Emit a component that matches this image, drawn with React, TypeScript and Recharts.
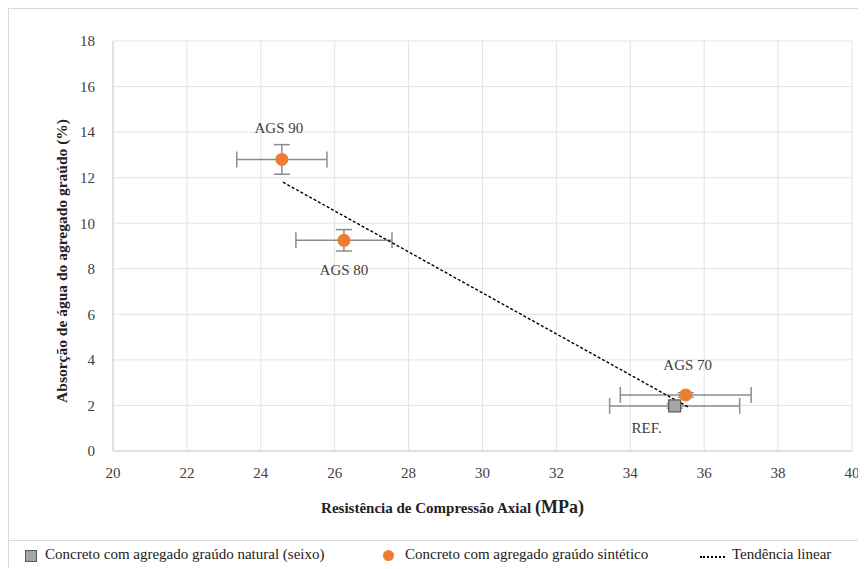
import { CartesianGrid, ErrorBar, Label, Scatter, ScatterChart, XAxis, YAxis } from 'recharts';

// values
const refX = [35.2];
const refY = [1.98];
const refErrX = [1.76];
const refErrY = [0.1];
const refNames = ['REF.'];

const agsNames = ['AGS 90', 'AGS 80', 'AGS 70'];
const agsX = [24.57, 26.25, 35.5];
const agsY = [12.8, 9.25, 2.46];
const agsErrX = [1.22, 1.3, 1.77];
const agsErrY = [0.65, 0.47, 0.1];

const trendX = [24.6, 35.6];
const trendY = [11.8, 1.9];

const xTicks = [20, 22, 24, 26, 28, 30, 32, 34, 36, 38, 40];
const yTicks = [0, 2, 4, 6, 8, 10, 12, 14, 16, 18];

// label placement relative to the marker centre
const LABEL_OFFSET: Record<string, [number, number]> = {
  'AGS 90': [-3, -31],
  'AGS 80': [0, 30],
  'AGS 70': [2, -30],
  'REF.': [-28, 22],
};

const FONT = 'Liberation Serif, Tinos, Times New Roman, DejaVu Serif, serif';
const INK = '#404040';
const ORANGE = '#ed7d31';
const GRID = '#e3e3e3';
const ERR = '#8c8c8c';

const refData = refX.map((x, i) => ({ x, y: refY[i], ex: refErrX[i], ey: refErrY[i], name: refNames[i] }));
const agsData = agsX.map((x, i) => ({ x, y: agsY[i], ex: agsErrX[i], ey: agsErrY[i], name: agsNames[i] }));
const trendData = trendX.map((x, i) => ({ x, y: trendY[i] }));

const pointLabel = (cx: number, cy: number, name: string) => {
  const [dx, dy] = LABEL_OFFSET[name] ?? [0, -20];
  return (
    <text x={cx + dx} y={cy + dy} textAnchor="middle" dominantBaseline="central" style={{ fontFamily: FONT }} fontSize={15} fill={INK}>
      {name}
    </text>
  );
};

const SquareShape = (props: any) => {
  const { cx, cy, payload } = props;
  return (
    <g>
      <rect x={cx - 6} y={cy - 6} width={12} height={12} fill="#a5a5a5" stroke="#595959" strokeWidth={1.2} />
      {pointLabel(cx, cy, payload.name)}
    </g>
  );
};

const CircleShape = (props: any) => {
  const { cx, cy, payload } = props;
  return (
    <g>
      <circle cx={cx} cy={cy} r={6.5} fill={ORANGE} />
      {pointLabel(cx, cy, payload.name)}
    </g>
  );
};

const XTitle = (props: any) => {
  const vb = props.viewBox;
  return (
    <text x={vb.x + vb.width / 2 - 30} y={vb.y + 62} textAnchor="middle" style={{ fontFamily: FONT }} fontWeight="bold" fontSize={15} fill="#222">
      <tspan>Resistência de Compressão Axial </tspan>
      <tspan fontSize={18}>(MPa)</tspan>
    </text>
  );
};

const YTitle = (props: any) => {
  const vb = props.viewBox;
  const x = vb.x + 42;
  const y = vb.y + vb.height / 2 + 15;
  return (
    <text
      x={x}
      y={y}
      transform={`rotate(-90 ${x} ${y})`}
      textAnchor="middle"
      dominantBaseline="central"
      style={{ fontFamily: FONT }}
      fontWeight="bold"
      fontSize={15.5}
      fill="#222"
    >
      Absorção de água do agregado graúdo (%)
    </text>
  );
};

export default function App() {
  return (
    <div
      style={{
        position: 'relative',
        width: 858,
        height: 560,
        border: '1px solid #d9d9d9',
        borderBottom: 'none',
        boxSizing: 'border-box',
        fontFamily: FONT,
        background: '#fff',
      }}
    >
      <ScatterChart width={856} height={531} margin={{ top: 32, right: 13, left: 10, bottom: 30 }} style={{ fontFamily: FONT }}>
        <CartesianGrid stroke={GRID} strokeWidth={1} />
        <XAxis
          type="number"
          dataKey="x"
          domain={[20, 40]}
          ticks={xTicks}
          interval={0}
          tickLine={false}
          axisLine={{ stroke: '#d0d0d0' }}
          tickMargin={10}
          tick={{ fontSize: 15, fill: INK, style: { fontFamily: FONT } }}
          height={59}
        >
          <Label content={<XTitle />} />
        </XAxis>
        <YAxis
          type="number"
          dataKey="y"
          domain={[0, 18]}
          ticks={yTicks}
          interval={0}
          tickLine={false}
          axisLine={{ stroke: '#d0d0d0' }}
          tickMargin={12}
          tick={{ fontSize: 15, fill: INK, style: { fontFamily: FONT } }}
          width={94}
        >
          <Label content={<YTitle />} />
        </YAxis>
        <Scatter
          data={trendData}
          line={{ stroke: '#000', strokeWidth: 1.4, strokeDasharray: '3 2' }}
          shape={() => <g />}
          isAnimationActive={false}
        />
        <Scatter data={refData} shape={<SquareShape />} isAnimationActive={false}>
          <ErrorBar dataKey="ex" direction="x" width={8} stroke={ERR} strokeWidth={1.5} />
          <ErrorBar dataKey="ey" direction="y" width={8} stroke={ERR} strokeWidth={1.5} />
        </Scatter>
        <Scatter data={agsData} shape={<CircleShape />} isAnimationActive={false}>
          <ErrorBar dataKey="ex" direction="x" width={8} stroke={ERR} strokeWidth={1.5} />
          <ErrorBar dataKey="ey" direction="y" width={8} stroke={ERR} strokeWidth={1.5} />
        </Scatter>
      </ScatterChart>
      <div
        style={{
          position: 'absolute',
          left: 0,
          top: 531,
          width: '100%',
          height: 29,
          borderTop: '1px solid #d9d9d9',
          fontSize: 15,
          color: '#222',
        }}
      >
        <span style={{ position: 'absolute', left: 16, top: 9, width: 12, height: 12, background: '#a5a5a5', border: '1px solid #595959', boxSizing: 'border-box' }} />
        <span style={{ position: 'absolute', left: 36, top: 5 }}>Concreto com agregado graúdo natural (seixo)</span>
        <span style={{ position: 'absolute', left: 374, top: 9, width: 11, height: 11, borderRadius: '50%', background: ORANGE }} />
        <span style={{ position: 'absolute', left: 396, top: 5 }}>Concreto com agregado graúdo sintético</span>
        <span style={{ position: 'absolute', left: 691, top: 15, width: 25, borderTop: '2px dotted #000' }} />
        <span style={{ position: 'absolute', left: 723, top: 5 }}>Tendência linear</span>
      </div>
    </div>
  );
}
